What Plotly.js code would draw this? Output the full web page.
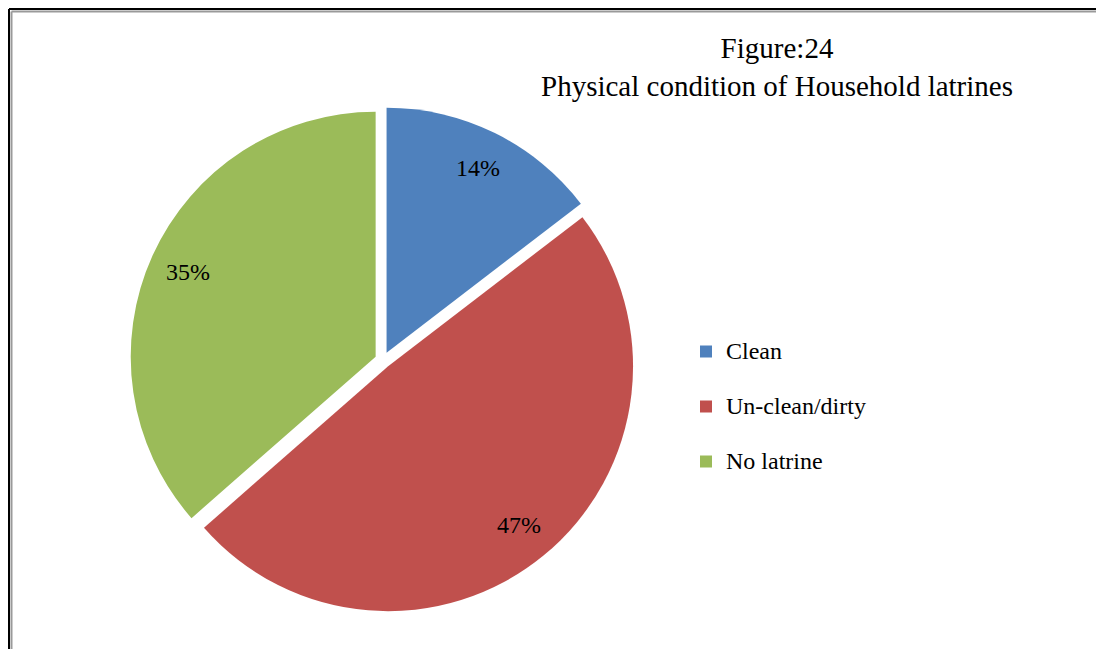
<!DOCTYPE html>
<html>
<head>
<meta charset="utf-8">
<script src="https://cdn.plot.ly/plotly-3.0.1.min.js"></script>
<style>
  html, body { margin: 0; padding: 0; background: #ffffff; }
  #chart { width: 1096px; height: 649px; }
</style>
</head>
<body>
<div id="chart"></div>
<script>
// ---- data ----
var categories = ["Clean", "Un-clean/dirty", "No latrine"];
var shares = [14, 47, 35];
var sliceColors = ["#4F81BD", "#C0504D", "#9BBB59"];
var chartTitle = "Figure:24<br>Physical condition of Household latrines";

var W = 1096, H = 649;
var SERIF = "Liberation Serif";
function px(x) { return x / W; }
function py(y) { return 1 - y / H; }

// pie placement (pixels)
var pull = 0.033;
var dom = { x0: 130, x1: 636, y0: 107, y1: 613 };

var legendLabels = categories.map(function (c) {
  return '<span style="font-size:24px">' + c + '</span><br>\u00a0';
});

var trace = {
  type: "pie",
  labels: legendLabels,
  values: shares,
  sort: false,
  direction: "clockwise",
  rotation: 0,
  pull: pull,
  marker: { colors: sliceColors, line: { width: 0 } },
  textinfo: "none",
  hoverinfo: "none",
  domain: { x: [px(dom.x0), px(dom.x1)], y: [py(dom.y1), py(dom.y0)] }
};

// slice value labels, placed along each slice's bisector (derived from the values)
var cx = (dom.x0 + dom.x1) / 2, cy = (dom.y0 + dom.y1) / 2;
var rPix = Math.min(dom.x1 - dom.x0, dom.y1 - dom.y0) / 2 / (1 + pull);
var total = shares.reduce(function (a, b) { return a + b; }, 0);
var annotations = [];
var cum = 0;
shares.forEach(function (v) {
  var mid = (cum + v / 2) / total * 2 * Math.PI;
  cum += v;
  var rr = rPix * (pull + 0.84);
  annotations.push({
    xref: "paper", yref: "paper",
    x: px(cx + rr * Math.sin(mid)), y: py(cy - rr * Math.cos(mid)),
    text: v + "%", showarrow: false, xanchor: "center", yanchor: "middle",
    font: { family: SERIF, size: 24, color: "#000000" }
  });
});

var layout = {
  width: W,
  height: H,
  margin: { l: 0, r: 0, t: 0, b: 0 },
  paper_bgcolor: "#ffffff",
  plot_bgcolor: "#ffffff",
  font: { family: SERIF, color: "#000000" },
  title: {
    text: chartTitle,
    font: { family: SERIF, size: 29, color: "#000000" },
    x: px(777), xanchor: "center", xref: "paper",
    y: py(58), yanchor: "top", yref: "container"
  },
  showlegend: true,
  legend: {
    x: px(686), xanchor: "left",
    y: py(332), yanchor: "top",
    font: { family: SERIF, size: 20, color: "#000000" },
    valign: "top",
    bgcolor: "rgba(0,0,0,0)",
    borderwidth: 0
  },
  annotations: annotations,
  shapes: [
    { type: "line", xref: "paper", yref: "paper", x0: px(9), x1: 1.01, y0: py(9), y1: py(9), line: { color: "#000000", width: 2 } },
    { type: "line", xref: "paper", yref: "paper", x0: px(9), x1: px(9), y0: py(9), y1: -0.01, line: { color: "#000000", width: 2 } },
    { type: "line", xref: "paper", yref: "paper", x0: px(11.5), x1: 1.01, y0: py(11.5), y1: py(11.5), line: { color: "#9a9a9a", width: 2 } },
    { type: "line", xref: "paper", yref: "paper", x0: px(11.5), x1: px(11.5), y0: py(11.5), y1: -0.01, line: { color: "#9a9a9a", width: 2 } }
  ]
};

Plotly.newPlot("chart", [trace], layout, { displayModeBar: false, staticPlot: true });
</script>
</body>
</html>
